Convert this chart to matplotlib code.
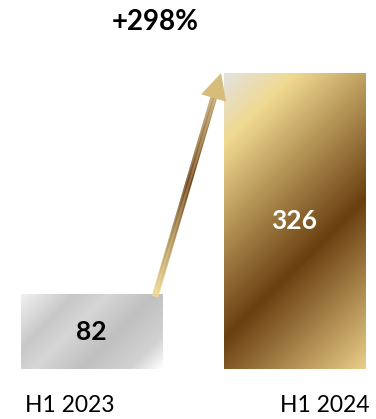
import numpy as np
import matplotlib; matplotlib.use("Agg")
import matplotlib.pyplot as plt
from matplotlib.colors import LinearSegmentedColormap
from matplotlib.collections import LineCollection
from matplotlib.patches import Polygon

periods = ["H1 2023", "H1 2024"]
values = [82, 326]
growth_label = "+298%"

plt.rcParams['font.family'] = ['Lato', 'DejaVu Sans']

gray = LinearSegmentedColormap.from_list("gray", [
    (0.0, "#f0f0f0"), (0.25, "#c8c8c8"), (0.4, "#d6d6d6"), (0.62, "#c0c0c0"),
    (0.85, "#d2d2d2"), (1.0, "#ffffff")])
gold = LinearSegmentedColormap.from_list("gold", [
    (0.0, "#e2e2e0"), (0.16, "#f1d990"), (0.61, "#6a3f10"), (1.0, "#e9cd88")])
arrow_cm = LinearSegmentedColormap.from_list("arr", [
    (0.0, "#f1d990"), (0.5, "#6a3f10"), (1.0, "#d6bd7c")])

W, H = 376, 419
fig = plt.figure(figsize=(W / 100, H / 100), dpi=100)
ax = fig.add_axes([0, 50 / H, 1, 362 / H])
ax.set_xlim(-0.4507, 1.4015)
ax.set_ylim(0, 400)
ax.axis("off")

x = np.arange(len(values))
bars = ax.bar(x, values, 0.695, color="none", edgecolor="none")

def pix(pt):
    return ax.transData.transform(pt)

for b, cm in zip(bars, [gray, gold]):
    x0, y0 = b.get_x(), b.get_y()
    x1, y1 = x0 + b.get_width(), y0 + b.get_height()
    p0, p1 = pix((x0, y0)), pix((x1, y1))
    pw, ph = int(round(p1[0] - p0[0])), int(round(p1[1] - p0[1]))
    u, v = np.meshgrid(np.arange(pw), np.arange(ph))
    t = (u + v) / (pw + ph - 2)  # top-left -> bottom-right diagonal
    ax.imshow(t, cmap=cm, extent=(x0, x1, y1, y0), origin="lower",
              aspect="auto", interpolation="bilinear", clip_path=b, zorder=1)

ax.set_xlim(-0.4507, 1.4015)
ax.set_ylim(0, 400)

# value labels
ax.text(x[0], values[0] / 2, str(values[0]), ha="center", va="center",
        fontsize=19, fontweight="bold", color="black", zorder=3)
ax.text(x[1], values[1] / 2, str(values[1]), ha="center", va="center",
        fontsize=19, fontweight="bold", color="white", zorder=3)

# category labels
ax.text(-0.106, -40, periods[0], ha="center", va="center", fontsize=16.5, clip_on=False)
ax.text(1.150, -40, periods[1], ha="center", va="center", fontsize=16.5, clip_on=False)

# growth arrow (gradient shaft + head)
tail = pix((0.313, 80))
tip = pix((0.638, 327))
d = tip - tail
L = np.hypot(*d)
e = d / L
nrm = np.array([-e[1], e[0]])
head_len, head_w, shaft_w = 26, 13, 3.3
base = tip - e * head_len
n = 200
pts = tail + np.outer(np.linspace(0, 1, n + 1), base + e * 2 - tail)
segs = np.stack([pts[:-1], pts[1:]], axis=1)
inv = ax.transData.inverted()
segs_d = np.array([inv.transform(s) for s in segs])
lc = LineCollection(segs_d, colors=arrow_cm(np.linspace(0, 0.88, n)),
                    linewidths=shaft_w * 2 * 0.72, capstyle="butt", zorder=2)
ax.add_collection(lc)
head = np.array([tip, base + nrm * head_w, base - nrm * head_w])
ax.add_patch(Polygon(inv.transform(head), closed=True, facecolor="#d6bd7c",
                     edgecolor="none", zorder=2))

ax.text(0.313, 383, growth_label, ha="center", va="center", fontsize=20,
        fontweight="bold", clip_on=False)

fig.savefig("out.png", dpi=100)
